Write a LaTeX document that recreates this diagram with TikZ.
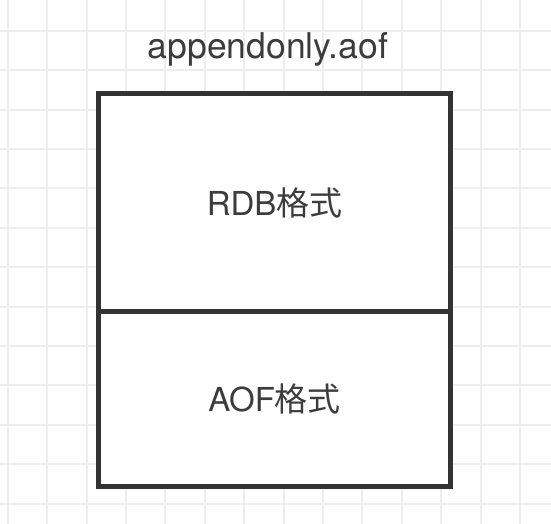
\documentclass[tikz,border=0pt]{standalone}
\usepackage{fontspec}
\setmainfont{TeX Gyre Heros}
\newfontfamily\cjk{Noto Sans CJK SC}
\usepackage{xcolor}
\usetikzlibrary{positioning}
\definecolor{gridcolor}{RGB}{238,238,238}
\definecolor{boxcolor}{RGB}{51,51,51}
\definecolor{textcolor}{RGB}{60,60,60}
\tikzset{
  grid line/.style={
    draw=gridcolor,
    line width=2pt
  },
  file cell/.style={
    rectangle,
    draw=boxcolor,
    fill=white,
    line width=5pt,
    outer sep=0pt,
    minimum width=352.2pt,
    font=\fontsize{33}{36}\selectfont,
    text=textcolor
  },
  file title/.style={
    font=\fontsize{35.5}{38}\selectfont,
    text=textcolor
  }
}
\begin{document}
\begin{tikzpicture}[x=1pt, y=-1pt]

  \useasboundingbox[fill=white] (0,0) rectangle (551,524);

  % Background grid
  \foreach \k in {0,...,13} {
    \draw[grid line] (7.7+39.4*\k,0) -- (7.7+39.4*\k,524);
  }
  \foreach \k in {0,...,12} {
    \draw[grid line] (0,30.8+39.4*\k) -- (551,30.8+39.4*\k);
  }

  % File layout
  \node[file cell, minimum height=218.4pt] (rdb) at (274.6,202.5) {RDB{\cjk 格式}};
  \node[file cell, minimum height=174.3pt, below=0pt of rdb] (aof) {AOF{\cjk 格式}};

  % File name
  \node[file title] (name) at (268,49) {appendonly.aof};

\end{tikzpicture}
\end{document}
